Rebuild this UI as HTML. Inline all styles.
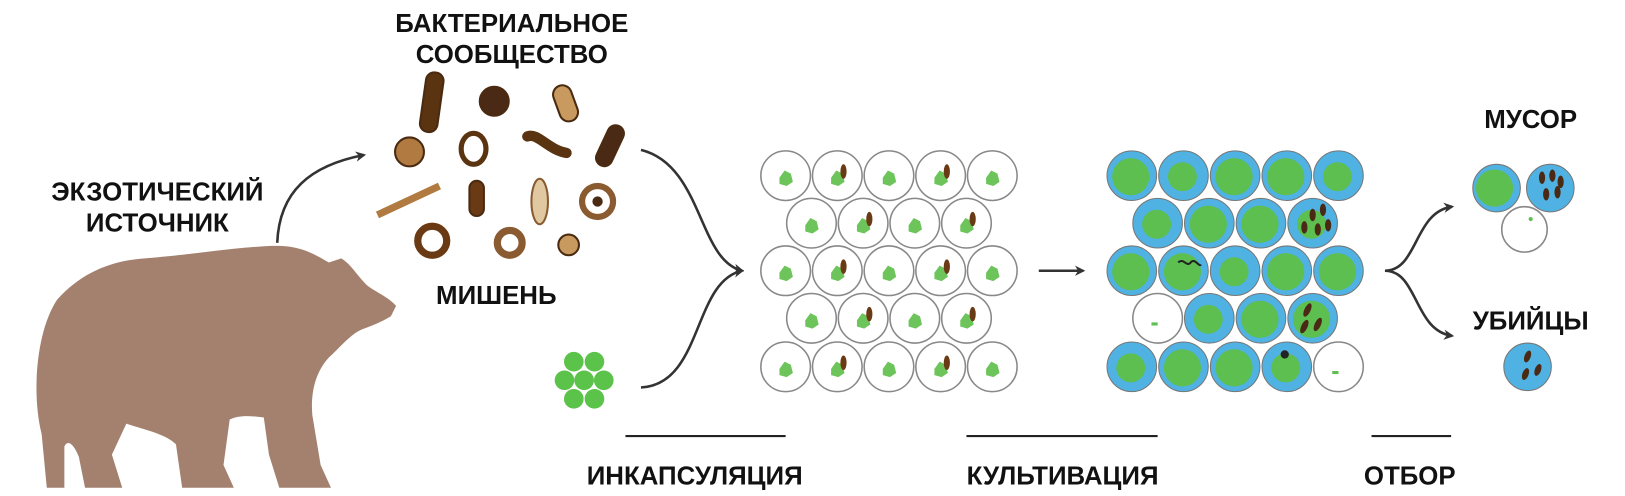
<!DOCTYPE html>
<html><head><meta charset="utf-8"><style>
html,body{margin:0;padding:0;background:#fff;}
svg{display:block}
text{font-family:"Liberation Sans",sans-serif;font-weight:bold;fill:#111;font-size:25px;text-anchor:middle}
</style></head><body>
<svg id="s" width="1625" height="496" viewBox="0 0 1572 480" xmlns="http://www.w3.org/2000/svg">
<defs>
<marker id="ah" markerWidth="10" markerHeight="10" refX="8" refY="5" orient="auto" markerUnits="userSpaceOnUse">
<path d="M0,0 L10,5 L0,10 L3,5 Z" fill="#333"/></marker>
</defs>
<rect width="1572" height="480" fill="#fff"/>
<path fill="#a4816f" d="M45,472 L40,420 C30,380 35,320 55,290 C80,262 110,252 140,250 C190,246 220,240 262,238 C290,237 302,245 318,254 L330,250 C340,256 346,268 356,277 C366,284 376,288 383,296 L378,306 C370,311 360,315 352,318 C340,322 330,335 318,346 C305,360 300,380 302,402 L310,450 L320,472 L270,472 L260,440 L255,404 C240,402 230,402 222,406 L216,450 L226,472 L176,472 L170,430 C160,420 140,416 122,410 L108,440 L118,472 L82,472 L76,442 C72,432 66,424 62,432 L62,472 Z"/>
<text x="495" y="31">БАКТЕРИАЛЬНОЕ</text>
<text x="495" y="61">СООБЩЕСТВО</text>
<text x="152" y="194">ЭКЗОТИЧЕСКИЙ</text>
<text x="152" y="224">ИСТОЧНИК</text>
<text x="480" y="294">МИШЕНЬ</text>
<text x="1481" y="124">МУСОР</text>
<text x="1481" y="319">УБИЙЦЫ</text>
<text x="672" y="469">ИНКАПСУЛЯЦИЯ</text>
<text x="1028" y="469">КУЛЬТИВАЦИЯ</text>
<text x="1364" y="469">ОТБОР</text>
<g stroke="#222" stroke-width="2">
<line x1="605" y1="422" x2="760" y2="422"/>
<line x1="935" y1="422" x2="1120" y2="422"/>
<line x1="1327" y1="422" x2="1404" y2="422"/>
</g>
<g fill="none" stroke="#333" stroke-width="2.5" marker-end="url(#ah)">
<path d="M268,235 C270,185 300,160 352,150"/>
<path d="M620,145 C680,160 675,252 718,262"/>
<path d="M620,375 C680,372 670,272 718,262"/>
<path d="M1005,262 L1048,262"/>
<path d="M1340,262 C1372,262 1368,205 1405,200"/>
<path d="M1340,262 C1372,262 1368,320 1405,325"/>
</g>
<g stroke="#4a2a10" stroke-width="2">
<rect x="409" y="70" width="17" height="58" rx="8" fill="#5a3310" transform="rotate(8 418 99)"/>
<circle cx="478" cy="98" r="14" fill="#4a2a14"/>
<rect x="538" y="82" width="18" height="36" rx="9" fill="#c99a60" transform="rotate(-20 547 100)"/>
<circle cx="396" cy="147" r="14" fill="#b07a40"/>
<ellipse cx="458" cy="144" rx="12" ry="15" fill="#fff" stroke="#5a3310" stroke-width="5"/>
<path d="M510,132 C520,128 530,145 548,148" stroke="#5a3310" stroke-width="10" fill="none" stroke-linecap="round"/>
<rect x="582" y="120" width="16" height="42" rx="8" fill="#4a2a14" transform="rotate(25 590 141)"/>
<path d="M365,208 L425,180" stroke="#b07a40" stroke-width="7" fill="none"/>
<rect x="454" y="175" width="14" height="34" rx="7" fill="#6a3a14"/>
<ellipse cx="522" cy="195" rx="8" ry="22" fill="#e0c9a0" stroke="#8a5a30"/>
<circle cx="578" cy="195" r="15" fill="#fff" stroke="#8a5a30" stroke-width="6"/>
<circle cx="578" cy="195" r="4" fill="#4a2a14"/>
<circle cx="418" cy="233" r="14" fill="#fff" stroke="#6a3a14" stroke-width="7"/>
<circle cx="493" cy="235" r="12" fill="#fff" stroke="#8a5a30" stroke-width="7"/>
<circle cx="550" cy="237" r="10" fill="#c99a60"/>
</g>
<g fill="#5cc34a">
<circle cx="555" cy="350" r="9.5"/><circle cx="575" cy="350" r="9.5"/>
<circle cx="546" cy="368" r="9.5"/><circle cx="565" cy="368" r="9.5"/><circle cx="584" cy="368" r="9.5"/>
<circle cx="555" cy="386" r="9.5"/><circle cx="575" cy="386" r="9.5"/>
</g>
<g id="grids"></g>
<circle cx="1448" cy="182" r="23" fill="#4fb2e2" stroke="#777" stroke-width="1"/>
<circle cx="1446" cy="182" r="18" fill="#5cbf4f"/>
<circle cx="1500" cy="182" r="23" fill="#4fb2e2" stroke="#777" stroke-width="1"/>
<g fill="#4a2a14"><ellipse cx="1492" cy="172" rx="3" ry="6"/><ellipse cx="1502" cy="170" rx="3" ry="6"/><ellipse cx="1496" cy="188" rx="3" ry="6"/><ellipse cx="1507" cy="186" rx="3" ry="6"/><ellipse cx="1510" cy="176" rx="3" ry="6"/></g>
<circle cx="1475" cy="222" r="22" fill="#fff" stroke="#888" stroke-width="1.5"/>
<circle cx="1481" cy="212" r="2" fill="#5cbf4f"/>
<circle cx="1478" cy="355" r="23" fill="#4fb2e2" stroke="#777" stroke-width="1"/>
<g fill="#4a2a14"><ellipse cx="1478" cy="345" rx="3" ry="6" transform="rotate(20 1478 345)"/><ellipse cx="1476" cy="362" rx="3" ry="6" transform="rotate(20 1476 362)"/><ellipse cx="1488" cy="358" rx="3" ry="6" transform="rotate(20 1488 358)"/></g>
<script>
(function(){
var g=document.getElementById('grids'),ns='http://www.w3.org/2000/svg';
function el(t,a){var e=document.createElementNS(ns,t);for(var k in a)e.setAttribute(k,a[k]);g.appendChild(e);return e;}
var ys=[170,216,262,308,355];
function cols(r,x0){return r%2?[x0+25,x0+75,x0+125,x0+175]:[x0,x0+50,x0+100,x0+150,x0+200];}
var bl=[[0,1],[0,3],[1,1],[1,3],[2,1],[2,3],[3,1],[3,3],[4,1],[4,3]];
ys.forEach(function(y,r){cols(r,760).forEach(function(x,c){
 el('circle',{cx:x,cy:y,r:24,fill:'#fff',stroke:'#888','stroke-width':1.5});
 el('path',{d:'M'+(x-6)+','+(y+2)+' l5,-7 l6,3 l2,8 l-6,4 l-7,-2 z',fill:'#6cc45a'});
 var isB=bl.some(function(b){return b[0]==r&&b[1]==c;});
 if(isB) el('ellipse',{cx:x+6,cy:y-4,rx:3,ry:7,fill:'#6a3a14'});
});});
var white={'3,0':1,'4,4':1};
ys.forEach(function(y,r){cols(r,1095).forEach(function(x,c){
 if(white[r+','+c]){el('circle',{cx:x,cy:y,r:24,fill:'#fff',stroke:'#888','stroke-width':1.5});el('rect',{x:x-6,y:y+4,width:6,height:3,fill:'#5cbf4f'});return;}
 el('circle',{cx:x,cy:y,r:24,fill:'#4fb2e2',stroke:'#777','stroke-width':1});
 el('circle',{cx:x-1,cy:y+1,r:((r+c)%3==1?14:18),fill:'#5cbf4f'});
});});
[[1270,208],[1280,203],[1275,222],[1262,220],[1285,218]].forEach(function(p){el('ellipse',{cx:p[0],cy:p[1],rx:3,ry:6,fill:'#4a2a14'});});
[[1265,300],[1275,314],[1262,316]].forEach(function(p){el('ellipse',{cx:p[0],cy:p[1],rx:3,ry:7,fill:'#4a2a14',transform:'rotate(25 '+p[0]+' '+p[1]+')'});});
el('path',{d:'M1140,254 c5,-5 8,5 12,0 c4,-5 8,5 10,2',stroke:'#222','stroke-width':2,fill:'none'});
el('circle',{cx:1243,cy:343,r:4,fill:'#222'});
})();
</script>
</svg>
</body></html>
